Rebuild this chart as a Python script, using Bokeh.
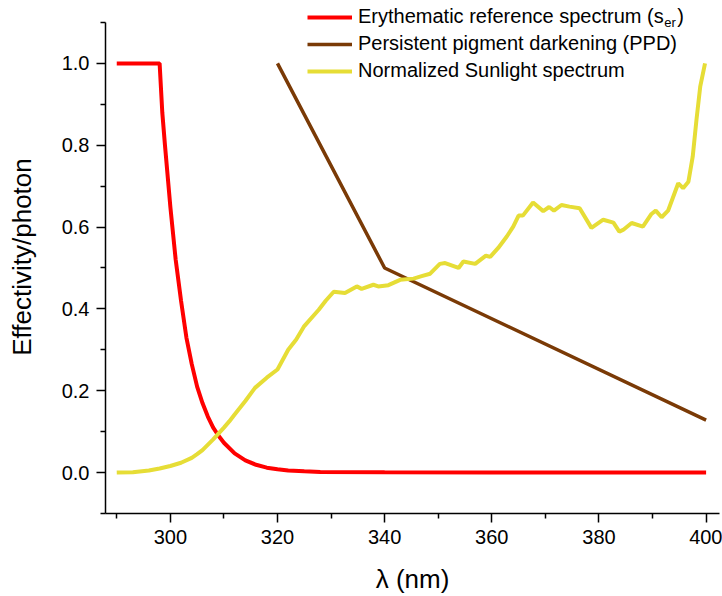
from bokeh.plotting import figure
from bokeh.models import Legend, LegendItem, Label, Range1d, FixedTicker, PrintfTickFormatter
from bokeh.embed import file_html
from bokeh.resources import INLINE

# Erythematic reference spectrum
ery_x = [290, 298, 298.5, 299, 300, 301, 302, 303, 304, 305, 306, 307, 308, 309, 310,
         312, 314, 316, 318, 320, 322, 325, 328, 340, 360, 380, 400]
ery_y = [1.0, 1.0, 0.88, 0.80, 0.65, 0.52, 0.42, 0.33, 0.265, 0.21, 0.17, 0.137, 0.11, 0.09, 0.073,
         0.047, 0.030, 0.019, 0.012, 0.008, 0.005, 0.003, 0.0015, 0.001, 0.0005, 0.0003, 0.0001]

# Persistent pigment darkening
ppd_x = [320, 340, 400]
ppd_y = [1.0, 0.5, 0.128]

# Normalized sunlight spectrum
sun_x = [290, 293, 296, 298, 300, 302, 304, 305, 306, 308, 310, 311, 312, 314, 315.8, 318,
         320, 322, 323.5, 325, 327.7, 329, 330.5, 332.6, 334.8, 335.7, 337.9, 338.8, 340.7,
         342.9, 345.4, 346.9, 348.5, 350.3, 351.3, 353.8, 354.7, 356.9, 358.9, 359.7, 361.2,
         362.8, 364, 365, 365.8, 367.7, 369.6, 370.7, 371.6, 373, 374.5, 376.4, 378.6, 380.8,
         382.7, 383.8, 384.5, 386.1, 388.2, 389.8, 390.6, 391.7, 392.9, 394.8, 395.7, 396.7,
         397.5, 398.2, 398.9, 399.8]
sun_y = [0.0, 0.001, 0.005, 0.01, 0.016, 0.024, 0.036, 0.045, 0.055, 0.081, 0.11, 0.125, 0.142,
         0.175, 0.207, 0.232, 0.252, 0.30, 0.325, 0.358, 0.398, 0.42, 0.442, 0.439, 0.455, 0.449,
         0.459, 0.455, 0.458, 0.471, 0.474, 0.48, 0.486, 0.51, 0.512, 0.50, 0.516, 0.51, 0.53,
         0.527, 0.549, 0.577, 0.601, 0.628, 0.628, 0.66, 0.639, 0.649, 0.64, 0.654, 0.65, 0.646,
         0.598, 0.618, 0.611, 0.589, 0.593, 0.61, 0.601, 0.632, 0.64, 0.624, 0.64, 0.707, 0.695,
         0.711, 0.772, 0.862, 0.943, 1.0]

x_ticks = [300, 320, 340, 360, 380, 400]
x_minor = [290, 310, 330, 350, 370, 390]
y_ticks = [0.0, 0.2, 0.4, 0.6, 0.8, 1.0]
y_minor = [-0.1, 0.1, 0.3, 0.5, 0.7, 0.9, 1.1]

FONT = "Liberation Sans"

p = figure(width=722, height=596, output_backend="svg", toolbar_location=None,
           x_range=Range1d(287.9, 402.5), y_range=Range1d(-0.1, 1.1537),
           min_border_left=105, min_border_right=3, min_border_top=0, min_border_bottom=82)
p.outline_line_color = None
p.xgrid.visible = False
p.ygrid.visible = False
p.background_fill_color = "white"
p.border_fill_color = "white"

for ax in (p.xaxis[0], p.yaxis[0]):
    ax.axis_line_width = 1.5
    ax.axis_line_color = "black"
    ax.major_tick_line_width = 1.5
    ax.minor_tick_line_width = 1.5
    ax.major_tick_line_color = "black"
    ax.minor_tick_line_color = "black"
    ax.major_tick_out = 9
    ax.major_tick_in = 0
    ax.minor_tick_out = 5
    ax.minor_tick_in = 0
    ax.major_label_text_font = FONT
    ax.major_label_text_font_size = "20px"
    ax.major_label_text_color = "black"
    ax.axis_label_text_font = FONT
    ax.axis_label_text_font_size = "26px"
    ax.axis_label_text_font_style = "normal"
    ax.axis_label_text_color = "black"
    ax.major_label_standoff = 7

p.yaxis[0].bounds = (-0.1, 1.1)
p.xaxis[0].ticker = FixedTicker(ticks=x_ticks, minor_ticks=x_minor)
p.yaxis[0].ticker = FixedTicker(ticks=y_ticks, minor_ticks=y_minor)
p.yaxis[0].formatter = PrintfTickFormatter(format="%.1f")
p.xaxis[0].axis_label = "λ (nm)"
p.yaxis[0].axis_label = "Effectivity/photon"
p.xaxis[0].axis_label_standoff = 17
p.xaxis[0].axis_label_text_line_height = 1.0
p.yaxis[0].axis_label_standoff = 22

r1 = p.line(ery_x, ery_y, line_color="#ff0000", line_width=4)
r2 = p.line(ppd_x, ppd_y, line_color="#7a3a06", line_width=3.5)
r3 = p.line(sun_x, sun_y, line_color="#e6dd36", line_width=4)

legend = Legend(items=[
    LegendItem(label="Erythematic reference spectrum (s", renderers=[r1]),
    LegendItem(label="Persistent pigment darkening (PPD)", renderers=[r2]),
    LegendItem(label="Normalized Sunlight spectrum", renderers=[r3]),
], location=(202, 431), glyph_width=45, glyph_height=20, label_height=20, spacing=4,
    label_standoff=6, padding=0, margin=0, border_line_alpha=0, background_fill_alpha=0,
    label_text_font=FONT, label_text_font_size="20px", label_text_color="black")
p.add_layout(legend)

# subscript "er" and closing parenthesis for first legend entry
p.add_layout(Label(x=392.18, y=1.1, text="er", text_font=FONT, text_font_size="13px",
                   text_baseline="middle", text_align="left", text_color="black"))
p.add_layout(Label(x=394.6, y=1.117, text=")", text_font=FONT, text_font_size="20px",
                   text_baseline="middle", text_align="left", text_color="black"))

open("out.html", "w").write(file_html(p, INLINE))
